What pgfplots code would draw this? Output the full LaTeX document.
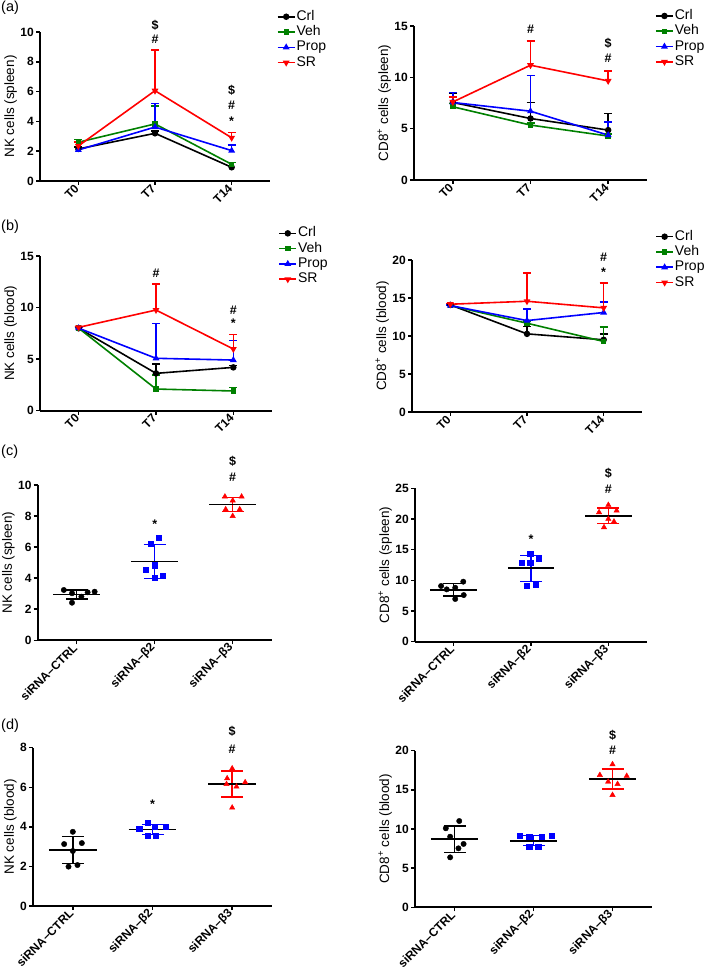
\documentclass[border=0pt]{standalone}
\usepackage{fontspec}
\setmainfont{Liberation Sans}
\usepackage{pgfplots}
\pgfplotsset{compat=1.18}
\definecolor{pgreen}{RGB}{0,128,0}
\definecolor{pblue}{RGB}{0,0,255}
\definecolor{pred}{RGB}{255,0,0}
\pgfplotsset{
  prism/.style={scale only axis, axis x line*=bottom, axis y line*=left,
    axis line style={line width=1.8pt},
    tick style={line width=1.5pt, black}, tick align=outside, major tick length=4pt,
    xmin=-0.5, xmax=2.5, ymin=0, xtick={0,1,2},
    x tick label style={rotate=45, anchor=east, font=\bfseries\fontsize{12}{13}\selectfont, inner sep=2pt},
    y tick label style={font=\bfseries\fontsize{12}{13}\selectfont, inner sep=2pt},
    ylabel style={font=\fontsize{13.5}{15}\selectfont, yshift=-2pt},
    clip=false, /pgf/number format/assume math mode=true,
    legend cell align=left,
    legend style={draw=none, fill=none, inner sep=0pt, anchor=north west, font=\fontsize{14}{15}\selectfont, row sep=0.3pt,
      nodes={inner sep=1pt, text height=10pt, text depth=3pt}},
  },
  lineax/.style={prism, xticklabels={T0,T7,T14}},
  catax/.style={prism, xticklabels={siRNA–CTRL,siRNA–β2,siRNA–β3}},
  ebp/.style={error bars/y dir=plus, error bars/y explicit, error bars/error bar style={line width=1.5pt},
    error bars/error mark options={#1, mark size=4pt, line width=1.5pt, rotate=90}},
  crl/.style={black, line width=1.6pt, mark=*, mark size=2.4pt, mark options={solid, fill=black}, ebp=black},
  veh/.style={pgreen, line width=1.6pt, mark=square*, mark size=1.9pt, mark options={solid, fill=pgreen}, ebp=pgreen},
  prop/.style={pblue, line width=1.6pt, mark=triangle*, mark size=2.4pt, mark options={solid, fill=pblue}, ebp=pblue},
  sr/.style={pred, line width=1.6pt, mark=triangle*, mark size=2.4pt, mark options={solid, fill=pred, rotate=180}, ebp=pred},
  sdbar/.style={#1, line width=1.5pt, forget plot, error bars/y dir=both, error bars/y explicit,
    error bars/error bar style={line width=1.5pt}, error bars/error mark options={#1, mark size=11pt, line width=1.5pt, rotate=90}},
  meanline/.style={black, line width=1.8pt, forget plot},
  ptsC/.style={only marks, mark=*, mark size=2.7pt, black, mark options={fill=black}},
  ptsB/.style={only marks, mark=square*, mark size=2.6pt, pblue, mark options={fill=pblue}},
  ptsR/.style={only marks, mark=triangle*, mark size=3.1pt, pred, mark options={fill=pred}},
}
\newcommand{\ann}[3]{\node[font=\bfseries\fontsize{12.5}{13}\selectfont] at (axis cs:#1,#2) {#3};}
\newcommand{\annstar}[2]{\node[font=\bfseries\fontsize{12.5}{13}\selectfont, yshift=-2.7pt] at (axis cs:#1,#2) {*};}
\begin{document}
\begin{tikzpicture}
\useasboundingbox (0pt,0pt) rectangle (709pt,974pt);
\node[anchor=west, font=\fontsize{14.5}{15}\selectfont, inner sep=1pt] at (0pt,966pt) {(a)};
\node[anchor=west, font=\fontsize{14.5}{15}\selectfont, inner sep=1pt] at (0pt,747pt) {(b)};
\node[anchor=west, font=\fontsize{14.5}{15}\selectfont, inner sep=1pt] at (0pt,522pt) {(c)};
\node[anchor=west, font=\fontsize{14.5}{15}\selectfont, inner sep=1pt] at (0pt,248pt) {(d)};

% (a) left
\begin{axis}[lineax, at={(40pt,793pt)}, anchor=south west, width=230pt, height=149pt,
  ymax=10, ytick={0,2,4,6,8,10}, ylabel={NK cells (spleen)},
  legend style={at={(1.029,1.154)}}]
\addplot[crl] coordinates {(0,2.15) +- (0,0.12) (1,3.2) +- (0,0.15) (2,0.92) +- (0,0.31)};
\addplot[veh] coordinates {(0,2.6) +- (0,0.2) (1,3.83) +- (0,1.2) (2,1.12) +- (0,0.12)};
\addplot[prop] coordinates {(0,2.08) +- (0,0.56) (1,3.62) +- (0,1.58) (2,2.04) +- (0,0.38)};
\addplot[sr] coordinates {(0,2.35) +- (0,0.25) (1,6.06) +- (0,2.74) (2,2.9) +- (0,0.34)};
\legend{Crl,Veh,Prop,SR}
\ann{1}{10.47}{\$}\ann{1}{9.5}{\#}
\ann{2}{6.1}{\$}\ann{2}{5.1}{\#}\annstar{2}{4.2}
\end{axis}

% (a) right
\begin{axis}[lineax, at={(414pt,794pt)}, anchor=south west, width=233pt, height=154pt,
  ymax=15, ytick={0,5,10,15}, ylabel={CD8\textsuperscript{+} cells (spleen)},
  legend style={at={(1.034,1.115)}}]
\addplot[crl] coordinates {(0,7.55) +- (0,0.85) (1,5.99) +- (0,1.56) (2,4.86) +- (0,1.62)};
\addplot[veh] coordinates {(0,7.13) +- (0,0.3) (1,5.35) +- (0,0.2) (2,4.28) +- (0,0.2)};
\addplot[prop] coordinates {(0,7.55) +- (0,0.95) (1,6.7) +- (0,3.5) (2,4.37) +- (0,1.3)};
\addplot[sr] coordinates {(0,7.6) +- (0,0.5) (1,11.18) +- (0,2.36) (2,9.65) +- (0,0.97)};
\legend{Crl,Veh,Prop,SR}
\ann{1}{14.64}{\#}
\ann{2}{13.28}{\$}\ann{2}{11.82}{\#}
\end{axis}

% (b) left
\begin{axis}[lineax, at={(40pt,563.3pt)}, anchor=south west, width=232pt, height=154.7pt,
  ymax=15, ytick={0,5,10,15}, ylabel={NK cells (blood)},
  legend style={at={(1.027,1.196)}}]
\addplot[crl] coordinates {(0,7.99) +- (0,0.1) (1,3.62) +- (0,0.91) (2,4.2) +- (0,0.2)};
\addplot[veh] coordinates {(0,8.0) +- (0,0.1) (1,2.1) +- (0,1.36) (2,1.91) +- (0,0.32)};
\addplot[prop] coordinates {(0,8.0) +- (0,0.1) (1,5.08) +- (0,3.39) (2,4.91) +- (0,1.88)};
\addplot[sr] coordinates {(0,8.08) +- (0,0.1) (1,9.76) +- (0,2.53) (2,5.98) +- (0,1.42)};
\legend{Crl,Veh,Prop,SR}
\ann{1}{13.3}{\#}
\ann{2}{9.76}{\#}\annstar{2}{8.7}
\end{axis}

% (b) right
\begin{axis}[lineax, at={(412pt,562pt)}, anchor=south west, width=230pt, height=152pt,
  ymax=20, ytick={0,5,10,15,20}, ylabel={CD8\textsuperscript{+} cells (blood)},
  legend style={at={(1.057,1.204)}}]
\addplot[crl] coordinates {(0,14.09) +- (0,0.1) (1,10.28) +- (0,1.0) (2,9.5) +- (0,0.78)};
\addplot[veh] coordinates {(0,14.0) +- (0,0.1) (1,11.68) +- (0,0.3) (2,9.28) +- (0,1.88)};
\addplot[prop] coordinates {(0,14.0) +- (0,0.1) (1,12.03) +- (0,1.54) (2,13.09) +- (0,1.4)};
\addplot[sr] coordinates {(0,14.18) +- (0,0.1) (1,14.57) +- (0,3.72) (2,13.7) +- (0,3.24)};
\legend{Crl,Veh,Prop,SR}
\ann{2}{20.35}{\#}\annstar{2}{18.77}
\end{axis}

% (c) left
\begin{axis}[catax, at={(37.7pt,333.7pt)}, anchor=south west, width=234pt, height=155.3pt,
  ymax=10, ytick={0,2,4,6,8,10}, ylabel={NK cells (spleen)}]
\addplot[sdbar=black] coordinates {(0,2.95) +- (0,0.29)};
\addplot[sdbar=pblue] coordinates {(1,5.07) +- (0,1.09)};
\addplot[sdbar=pred] coordinates {(2,8.74) +- (0,0.46)};
\addplot[ptsC] coordinates {(-0.165,3.24) (-0.06,3.03) (-0.06,2.42) (0.06,2.81) (0.14,3.09) (0.23,3.13)};
\addplot[ptsB] coordinates {(0.945,6.24) (1.055,6.63) (0.886,4.53) (1.0,4.83) (1.0,4.03) (1.106,4.16)};
\addplot[ptsR] coordinates {(1.9,9.25) (2.114,9.25) (2.0,9.0) (1.91,8.43) (2.09,8.43) (2.0,8.0)};
\addplot[meanline] coordinates {(-0.3,2.95) (0.3,2.95)};
\addplot[meanline] coordinates {(0.7,5.07) (1.3,5.07)};
\addplot[meanline] coordinates {(1.7,8.74) (2.3,8.74)};
\annstar{1}{7.68}
\ann{2}{11.5}{\$}\ann{2}{10.5}{\#}
\end{axis}

% (c) right
\begin{axis}[catax, at={(415pt,332.3pt)}, anchor=south west, width=232pt, height=153.4pt,
  ymax=25, ytick={0,5,10,15,20,25}, ylabel={CD8\textsuperscript{+} cells (spleen)}]
\addplot[sdbar=black] coordinates {(0,8.48) +- (0,1.03)};
\addplot[sdbar=pblue] coordinates {(1,11.96) +- (0,2.12)};
\addplot[sdbar=pred] coordinates {(2,20.54) +- (0,1.28)};
\addplot[ptsC] coordinates {(-0.163,9.08) (-0.09,8.53) (0.02,8.8) (0.124,9.78) (0.02,6.96) (0.13,7.6)};
\addplot[ptsB] coordinates {(0.884,12.88) (0.99,14.4) (0.99,12.88) (1.1,13.48) (0.94,9.08) (1.056,9.35)};
\addplot[ptsR] coordinates {(2.0,22.28) (1.88,21.09) (2.107,21.36) (2.0,20.0) (2.073,19.57) (1.944,18.64)};
\addplot[meanline] coordinates {(-0.3,8.48) (0.3,8.48)};
\addplot[meanline] coordinates {(0.7,11.96) (1.3,11.96)};
\addplot[meanline] coordinates {(1.7,20.54) (2.3,20.54)};
\annstar{1}{17.1}
\ann{2}{27.4}{\$}\ann{2}{24.8}{\#}
\end{axis}

% (d) left
\begin{axis}[catax, at={(33pt,68pt)}, anchor=south west, width=239pt, height=158.3pt,
  ymax=8, ytick={0,2,4,6,8}, ylabel={NK cells (blood)}]
\addplot[sdbar=black] coordinates {(0,2.83) +- (0,0.69)};
\addplot[sdbar=pblue] coordinates {(1,3.87) +- (0,0.25)};
\addplot[sdbar=pred] coordinates {(2,6.17) +- (0,0.66)};
\addplot[ptsC] coordinates {(0.0,3.75) (-0.109,3.13) (0.113,3.18) (0.0,2.78) (-0.054,1.99) (0.058,2.07)};
\addplot[ptsB] coordinates {(0.937,4.21) (0.833,3.89) (1.029,4.0) (1.163,4.0) (0.937,3.57) (1.042,3.57)};
\addplot[ptsR] coordinates {(2.0,6.95) (1.937,6.45) (1.929,6.16) (2.054,6.03) (2.163,6.25) (2.0,4.97)};
\addplot[meanline] coordinates {(-0.3,2.83) (0.3,2.83)};
\addplot[meanline] coordinates {(0.7,3.87) (1.3,3.87)};
\addplot[meanline] coordinates {(1.7,6.17) (2.3,6.17)};
\annstar{1}{5.27}
\ann{2}{8.84}{\$}\ann{2}{7.91}{\#}
\end{axis}

% (d) right
\begin{axis}[catax, at={(415pt,66.7pt)}, anchor=south west, width=237pt, height=156.6pt,
  ymax=20, ytick={0,5,10,15,20}, ylabel={CD8\textsuperscript{+} cells (blood)}]
\addplot[sdbar=black] coordinates {(0,8.68) +- (0,1.7)};
\addplot[sdbar=pblue] coordinates {(1,8.51) +- (0,0.64)};
\addplot[sdbar=pred] coordinates {(2,16.38) +- (0,1.3)};
\addplot[ptsC] coordinates {(0.06,11.02) (-0.11,10.09) (-0.055,9.02) (0.115,8.09) (0.05,7.53) (-0.055,6.38)};
\addplot[ptsB] coordinates {(0.83,9.19) (0.945,9.02) (1.106,9.02) (1.234,9.1) (0.945,7.7) (1.06,7.7)};
\addplot[ptsR] coordinates {(2.0,18.26) (1.84,16.89) (2.18,16.77) (1.945,16.04) (2.064,15.74) (2.0,14.34)};
\addplot[meanline] coordinates {(-0.3,8.68) (0.3,8.68)};
\addplot[meanline] coordinates {(0.7,8.51) (1.3,8.51)};
\addplot[meanline] coordinates {(1.7,16.38) (2.3,16.38)};
\ann{2}{22.0}{\$}\ann{2}{20.09}{\#}
\end{axis}
\end{tikzpicture}
\end{document}
